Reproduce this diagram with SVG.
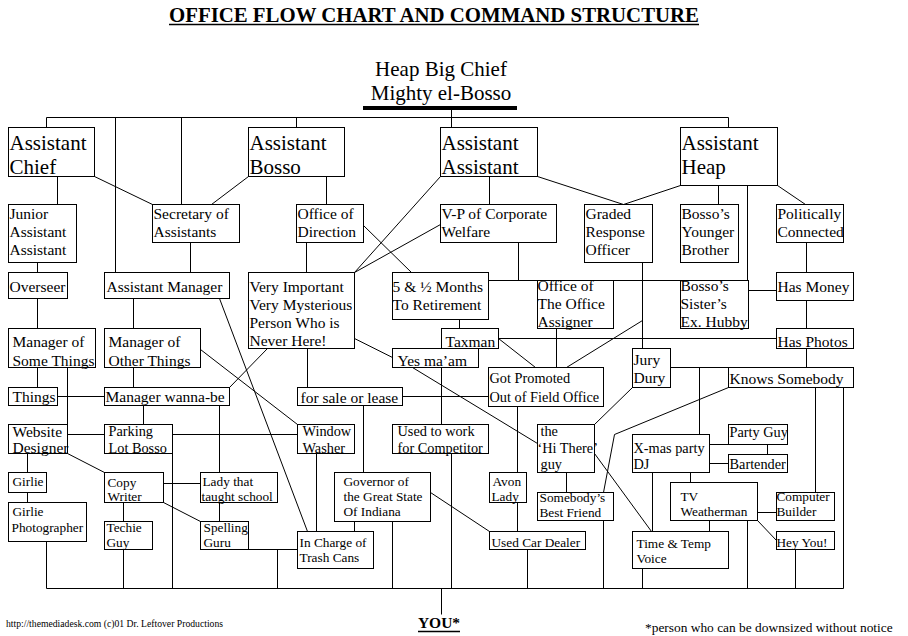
<svg xmlns="http://www.w3.org/2000/svg" width="908" height="636" viewBox="0 0 908 636">
<style>
text{font-family:"Liberation Serif","Times New Roman",serif;fill:#000}
.L{font-size:21px}.m{font-size:15.5px}.s{font-size:14.3px}.x{font-size:13.3px}
.n rect{fill:#fff;stroke:#000;stroke-width:1}
#connectors line,#connectors polyline{stroke:#000;stroke-width:1;fill:none}
.ttl{font-size:20px;font-weight:bold}
</style>
<rect width="908" height="636" fill="#fff"/>
<g id="title">
<text class="ttl" x="434" y="22" text-anchor="middle" textLength="530" lengthAdjust="spacingAndGlyphs">OFFICE FLOW CHART AND COMMAND STRUCTURE</text>
<line x1="169" y1="24.5" x2="699" y2="24.5" stroke="#000" stroke-width="1.5"/>
</g>
<g id="chief">
<text class="L" x="441" y="76" text-anchor="middle">Heap Big Chief</text>
<text class="L" x="441" y="100" text-anchor="middle">Mighty el-Bosso</text>
<rect x="363" y="106" width="154" height="4" fill="#000"/>
</g>
<g id="connectors" transform="translate(0.5,0.5)">
<line x1="451" y1="109" x2="451" y2="117"/>
<line x1="46" y1="117" x2="728" y2="117"/>
<line x1="46" y1="117" x2="46" y2="127"/>
<line x1="115" y1="117" x2="115" y2="272"/>
<line x1="181" y1="117" x2="181" y2="204"/>
<line x1="296" y1="117" x2="296" y2="127"/>
<line x1="451" y1="117" x2="451" y2="127"/>
<line x1="728" y1="117" x2="728" y2="127"/>
<line x1="57" y1="176" x2="57" y2="204"/>
<line x1="94" y1="176" x2="152" y2="204"/>
<line x1="248" y1="176" x2="211" y2="204"/>
<line x1="326" y1="176" x2="326" y2="204"/>
<line x1="489" y1="176" x2="489" y2="204"/>
<line x1="440" y1="176" x2="354" y2="272"/>
<line x1="537" y1="176" x2="623" y2="204"/>
<line x1="680" y1="185" x2="623" y2="204"/>
<line x1="718" y1="185" x2="718" y2="204"/>
<polyline points="747,185 747,290 776,290"/>
<line x1="777" y1="185" x2="805" y2="204"/>
<line x1="37" y1="262" x2="37" y2="272"/>
<line x1="190" y1="242" x2="190" y2="272"/>
<line x1="306" y1="242" x2="306" y2="272"/>
<line x1="363" y1="225" x2="411" y2="272"/>
<line x1="440" y1="224" x2="354" y2="272"/>
<line x1="518" y1="242" x2="518" y2="280"/>
<line x1="488" y1="280" x2="747" y2="280"/>
<line x1="642" y1="262" x2="642" y2="348"/>
<line x1="806" y1="242" x2="806" y2="272"/>
<line x1="806" y1="300" x2="806" y2="328"/>
<line x1="806" y1="348" x2="806" y2="367"/>
<line x1="37" y1="298" x2="37" y2="328"/>
<line x1="37" y1="367" x2="37" y2="387"/>
<line x1="133" y1="298" x2="133" y2="328"/>
<line x1="133" y1="367" x2="133" y2="387"/>
<line x1="67" y1="367" x2="67" y2="424"/>
<line x1="219" y1="298" x2="307" y2="531"/>
<line x1="459" y1="319" x2="459" y2="328"/>
<line x1="498" y1="338" x2="776" y2="338"/>
<line x1="498" y1="338" x2="535" y2="367"/>
<line x1="556" y1="328" x2="556" y2="367"/>
<line x1="566" y1="367" x2="642" y2="320"/>
<line x1="354" y1="338" x2="392" y2="357"/>
<line x1="307" y1="348" x2="307" y2="387"/>
<line x1="267" y1="348" x2="229" y2="387"/>
<line x1="441" y1="367" x2="441" y2="424"/>
<line x1="412" y1="367" x2="537" y2="443"/>
<line x1="57" y1="396" x2="104" y2="396"/>
<line x1="402" y1="396" x2="488" y2="396"/>
<line x1="143" y1="405" x2="143" y2="424"/>
<line x1="219" y1="405" x2="219" y2="472"/>
<line x1="219" y1="502" x2="219" y2="521"/>
<line x1="200" y1="349" x2="297" y2="424"/>
<line x1="67" y1="434" x2="104" y2="434"/>
<line x1="172" y1="434" x2="297" y2="434"/>
<line x1="363" y1="405" x2="363" y2="472"/>
<line x1="316" y1="453" x2="316" y2="531"/>
<line x1="451" y1="453" x2="451" y2="588"/>
<line x1="517" y1="406" x2="517" y2="472"/>
<line x1="517" y1="502" x2="517" y2="531"/>
<line x1="670" y1="367" x2="728" y2="367"/>
<line x1="699" y1="367" x2="699" y2="434"/>
<line x1="632" y1="387" x2="594" y2="424"/>
<polyline points="728,387 614,434 603,492"/>
<line x1="815" y1="387" x2="815" y2="492"/>
<line x1="843" y1="387" x2="843" y2="588"/>
<line x1="566" y1="472" x2="566" y2="492"/>
<line x1="594" y1="453" x2="651" y2="531"/>
<line x1="709" y1="444" x2="728" y2="444"/>
<line x1="767" y1="444" x2="767" y2="454"/>
<line x1="709" y1="463" x2="728" y2="463"/>
<line x1="652" y1="472" x2="652" y2="531"/>
<line x1="690" y1="472" x2="690" y2="482"/>
<line x1="709" y1="520" x2="709" y2="531"/>
<line x1="757" y1="512" x2="776" y2="512"/>
<line x1="757" y1="520" x2="776" y2="540"/>
<line x1="747" y1="520" x2="747" y2="588"/>
<line x1="795" y1="549" x2="795" y2="588"/>
<line x1="642" y1="568" x2="642" y2="588"/>
<line x1="603" y1="520" x2="603" y2="588"/>
<line x1="27" y1="453" x2="27" y2="472"/>
<line x1="27" y1="492" x2="27" y2="502"/>
<line x1="67" y1="453" x2="104" y2="472"/>
<line x1="46" y1="541" x2="46" y2="588"/>
<line x1="123" y1="502" x2="123" y2="521"/>
<line x1="123" y1="549" x2="123" y2="588"/>
<line x1="172" y1="453" x2="172" y2="588"/>
<line x1="163" y1="483" x2="200" y2="483"/>
<line x1="163" y1="502" x2="200" y2="521"/>
<line x1="248" y1="549" x2="297" y2="549"/>
<line x1="277" y1="549" x2="277" y2="588"/>
<line x1="354" y1="521" x2="354" y2="531"/>
<line x1="392" y1="521" x2="392" y2="588"/>
<line x1="430" y1="492" x2="489" y2="531"/>
<line x1="527" y1="549" x2="527" y2="588"/>
<line x1="46" y1="588" x2="843" y2="588"/>
<line x1="441" y1="588" x2="441" y2="614"/>
</g>
<g id="nodes" transform="translate(0.5,0.5)">
<g id="assistant-chief" class="n"><rect x="8" y="127" width="86" height="49"/><text class="L" x="9" y="149">Assistant</text><text class="L" x="9" y="173">Chief</text></g>
<g id="assistant-bosso" class="n"><rect x="248" y="127" width="96" height="49"/><text class="L" x="249" y="149">Assistant</text><text class="L" x="249" y="173">Bosso</text></g>
<g id="assistant-assistant" class="n"><rect x="440" y="127" width="97" height="49"/><text class="L" x="441" y="149">Assistant</text><text class="L" x="441" y="173">Assistant</text></g>
<g id="assistant-heap" class="n"><rect x="680" y="127" width="97" height="58"/><text class="L" x="681" y="149">Assistant</text><text class="L" x="681" y="173">Heap</text></g>
<g id="junior" class="n"><rect x="8" y="204" width="68" height="58"/><text class="m" x="9" y="218">Junior</text><text class="m" x="9" y="236">Assistant</text><text class="m" x="9" y="254">Assistant</text></g>
<g id="secretary" class="n"><rect x="152" y="204" width="87" height="38"/><text class="m" x="153" y="218">Secretary of</text><text class="m" x="153" y="236">Assistants</text></g>
<g id="office-direction" class="n"><rect x="296" y="204" width="67" height="38"/><text class="m" x="297" y="218">Office of</text><text class="m" x="297" y="236">Direction</text></g>
<g id="vp-welfare" class="n"><rect x="440" y="204" width="116" height="38"/><text class="m" x="441" y="218">V-P of Corporate</text><text class="m" x="441" y="236">Welfare</text></g>
<g id="graded" class="n"><rect x="584" y="204" width="68" height="58"/><text class="m" x="585" y="218">Graded</text><text class="m" x="585" y="236">Response</text><text class="m" x="585" y="254">Officer</text></g>
<g id="younger-brother" class="n"><rect x="680" y="204" width="58" height="58"/><text class="m" x="681" y="218">Bosso’s</text><text class="m" x="681" y="236">Younger</text><text class="m" x="681" y="254">Brother</text></g>
<g id="politically" class="n"><rect x="776" y="204" width="67" height="38"/><text class="m" x="777" y="218">Politically</text><text class="m" x="777" y="236">Connected</text></g>
<g id="overseer" class="n"><rect x="8" y="272" width="59" height="26"/><text class="m" x="9" y="291">Overseer</text></g>
<g id="assistant-manager" class="n"><rect x="104" y="272" width="125" height="26"/><text class="m" x="106" y="291">Assistant Manager</text></g>
<g id="very-important" class="n"><rect x="248" y="272" width="106" height="76"/><text class="m" x="249" y="291">Very Important</text><text class="m" x="249" y="309">Very Mysterious</text><text class="m" x="249" y="327">Person Who is</text><text class="m" x="249" y="345">Never Here!</text></g>
<g id="retirement" class="n"><rect x="392" y="272" width="96" height="47"/><text class="m" x="392" y="291">5 &amp; ½ Months</text><text class="m" x="392" y="309">To Retirement</text></g>
<g id="office-assigner" class="n"><rect x="537" y="280" width="76" height="48"/><text class="m" x="537" y="290">Office of</text><text class="m" x="537" y="308">The Office</text><text class="m" x="537" y="326">Assigner</text></g>
<g id="sister-hubby" class="n"><rect x="680" y="280" width="68" height="48"/><text class="m" x="680" y="290">Bosso’s</text><text class="m" x="680" y="308">Sister’s</text><text class="m" x="680" y="326">Ex. Hubby</text></g>
<g id="has-money" class="n"><rect x="776" y="272" width="77" height="28"/><text class="m" x="777" y="291">Has Money</text></g>
<g id="some-things" class="n"><rect x="8" y="328" width="87" height="39"/><text class="m" x="12" y="346">Manager of</text><text class="m" x="12" y="365">Some Things</text></g>
<g id="other-things" class="n"><rect x="104" y="328" width="96" height="39"/><text class="m" x="108" y="346">Manager of</text><text class="m" x="108" y="365">Other Things</text></g>
<g id="taxman" class="n"><rect x="441" y="328" width="57" height="20"/><text class="m" x="445" y="346">Taxman</text></g>
<g id="has-photos" class="n"><rect x="776" y="328" width="77" height="20"/><text class="m" x="777" y="346">Has Photos</text></g>
<g id="things" class="n"><rect x="8" y="387" width="49" height="18"/><text class="m" x="12" y="401">Things</text></g>
<g id="wanna-be" class="n"><rect x="104" y="387" width="125" height="18"/><text class="m" x="105" y="401">Manager wanna-be</text></g>
<g id="yes-maam" class="n"><rect x="392" y="348" width="86" height="19"/><text class="m" x="397" y="365">Yes ma’am</text></g>
<g id="jury-dury" class="n"><rect x="632" y="348" width="38" height="39"/><text class="m" x="633" y="364">Jury</text><text class="m" x="633" y="382">Dury</text></g>
<g id="got-promoted" class="n"><rect x="488" y="367" width="115" height="39"/><text class="s" x="489" y="382">Got Promoted</text><text class="s" x="489" y="401">Out of Field Office</text></g>
<g id="knows-somebody" class="n"><rect x="728" y="367" width="125" height="20"/><text class="m" x="729" y="383">Knows Somebody</text></g>
<g id="for-sale" class="n"><rect x="297" y="387" width="105" height="18"/><text class="m" x="300" y="402">for sale or lease</text></g>
<g id="website-designer" class="n"><rect x="8" y="424" width="59" height="29"/><text class="m" x="12" y="436">Website</text><text class="m" x="12" y="452">Designer</text></g>
<g id="parking-lot" class="n"><rect x="104" y="424" width="68" height="29"/><text class="s" x="108" y="435">Parking</text><text class="s" x="108" y="452">Lot Bosso</text></g>
<g id="window-washer" class="n"><rect x="297" y="424" width="57" height="29"/><text class="s" x="302" y="435">Window</text><text class="s" x="302" y="452">Washer</text></g>
<g id="used-to-work" class="n"><rect x="392" y="424" width="96" height="29"/><text class="s" x="397" y="435">Used to work</text><text class="s" x="397" y="452">for Competitor</text></g>
<g id="hi-there" class="n"><rect x="537" y="424" width="57" height="48"/><text class="s" x="540" y="435">the</text><text class="s" x="537" y="452">‘Hi There’</text><text class="s" x="540" y="468">guy</text></g>
<g id="party-guy" class="n"><rect x="728" y="424" width="59" height="20"/><text class="s" x="729" y="436">Party Guy</text></g>
<g id="xmas-dj" class="n"><rect x="632" y="434" width="77" height="38"/><text class="s" x="633" y="452">X-mas party</text><text class="s" x="633" y="468">DJ</text></g>
<g id="bartender" class="n"><rect x="728" y="454" width="59" height="18"/><text class="s" x="729" y="468">Bartender</text></g>
<g id="girlie" class="n"><rect x="8" y="472" width="38" height="20"/><text class="x" x="12" y="485">Girlie</text></g>
<g id="copy-writer" class="n"><rect x="104" y="472" width="59" height="30"/><text class="x" x="107" y="486">Copy</text><text class="x" x="107" y="500">Writer</text></g>
<g id="lady-school" class="n"><rect x="200" y="472" width="77" height="30"/><text class="x" x="202" y="485">Lady that</text><text class="x" x="201" y="500">taught school</text></g>
<g id="governor" class="n"><rect x="334" y="472" width="96" height="49"/><text class="x" x="343" y="485">Governor of</text><text class="x" x="343" y="500">the Great State</text><text class="x" x="343" y="515">Of Indiana</text></g>
<g id="avon-lady" class="n"><rect x="489" y="472" width="37" height="30"/><text class="x" x="492" y="485">Avon</text><text class="x" x="491" y="500">Lady</text></g>
<g id="tv-weatherman" class="n"><rect x="670" y="482" width="87" height="38"/><text class="x" x="680" y="500">TV</text><text class="x" x="680" y="515">Weatherman</text></g>
<g id="girlie-photographer" class="n"><rect x="8" y="502" width="78" height="39"/><text class="x" x="12" y="515">Girlie</text><text class="x" x="11" y="531">Photographer</text></g>
<g id="best-friend" class="n"><rect x="537" y="492" width="76" height="28"/><text class="x" x="539" y="501">Somebody’s</text><text class="x" x="539" y="516">Best Friend</text></g>
<g id="computer-builder" class="n"><rect x="776" y="492" width="58" height="28"/><text class="x" x="776" y="500">Computer</text><text class="x" x="776" y="515">Builder</text></g>
<g id="techie-guy" class="n"><rect x="104" y="521" width="48" height="28"/><text class="x" x="106" y="531">Techie</text><text class="x" x="106" y="546">Guy</text></g>
<g id="spelling-guru" class="n"><rect x="200" y="521" width="48" height="28"/><text class="x" x="203" y="531">Spelling</text><text class="x" x="203" y="546">Guru</text></g>
<g id="trash-cans" class="n"><rect x="297" y="531" width="76" height="37"/><text class="x" x="299" y="546">In Charge of</text><text class="x" x="299" y="561">Trash Cans</text></g>
<g id="used-car" class="n"><rect x="489" y="531" width="96" height="18"/><text class="x" x="491" y="546">Used Car Dealer</text></g>
<g id="hey-you" class="n"><rect x="776" y="531" width="58" height="18"/><text class="x" x="776" y="546">Hey You!</text></g>
<g id="time-temp" class="n"><rect x="632" y="531" width="96" height="37"/><text class="x" x="636" y="547">Time &amp; Temp</text><text class="x" x="636" y="562">Voice</text></g>
</g>
<g id="you">
<text x="439" y="628" text-anchor="middle" style="font-size:15.5px;font-weight:bold">YOU*</text>
<line x1="418" y1="631.5" x2="460" y2="631.5" stroke="#000" stroke-width="1.5"/>
</g>
<text x="6" y="627" style="font-size:10px" textLength="217" lengthAdjust="spacingAndGlyphs">http://themediadesk.com  (c)01 Dr. Leftover Productions</text>
<text x="645" y="632" style="font-size:13.4px">*person who can be downsized without notice</text>
</svg>
